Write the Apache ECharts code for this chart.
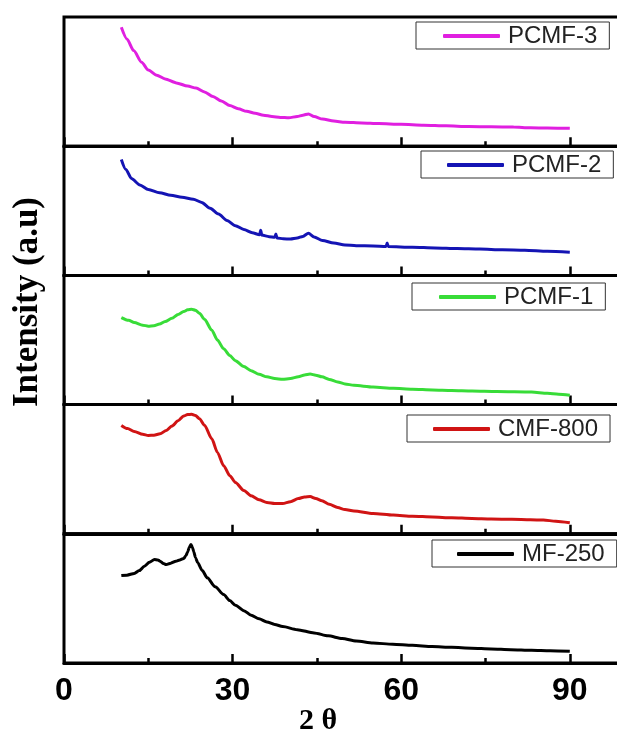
<!DOCTYPE html>
<html>
<head>
<meta charset="utf-8">
<script src="https://cdn.jsdelivr.net/npm/echarts@6/dist/echarts.min.js"></script>
<style>
  html, body { margin: 0; padding: 0; background: #ffffff; }
  #chart { width: 617px; height: 740px; }
</style>
</head>
<body>
<div id="chart"></div>
<script>
// XRD patterns, stacked top to bottom
const seriesNames = ['PCMF-3', 'PCMF-2', 'PCMF-1', 'CMF-800', 'MF-250'];
const seriesColors = ['#e01fe0', '#1414b4', '#38dc38', '#d01414', '#000000'];

const thetaPCMF3 = [10.2, 11.2, 12.4, 13.8, 15, 16.5, 18, 20, 22, 23.5, 25, 26.5, 28, 29.5, 31, 32.5, 34, 35.5, 37, 38.5, 40, 41.5, 42.5, 43.5, 44.5, 46, 48, 50, 53, 56, 60, 64, 68, 72, 76, 80, 83, 86, 90];
const intPCMF3 = [92, 83, 74, 65, 59, 55, 52, 49, 46.5, 45, 42, 38.5, 35, 31.5, 29, 27, 25.5, 24, 23, 22.3, 22, 23, 24, 25, 23, 21, 19.5, 18.5, 18, 17.5, 17, 16.3, 15.8, 15.2, 15, 14.8, 14.2, 14, 13.8];

const thetaPCMF2 = [10.2, 11, 12, 13.5, 15, 17, 19, 21, 23, 24.5, 26, 27.5, 29, 30.5, 32, 33.5, 34.8, 35, 35.2, 36.5, 37.5, 37.7, 37.9, 39, 40.3, 41.5, 42.5, 43.5, 44.5, 46, 48, 50, 52, 55, 57.3, 57.5, 57.7, 62, 66, 70, 74, 78, 82, 86, 90];
const intPCMF2 = [89.7, 82, 75, 70, 66.5, 64, 62, 60.5, 59, 56.5, 52, 47.5, 42.5, 38.5, 35.5, 33, 31.5, 35, 31.2, 30, 29.5, 32, 29, 28.3, 28.2, 29, 30.2, 32.6, 29.8, 27, 25, 23.6, 23, 22.8, 22.4, 25, 22.3, 21.8, 21.3, 20.8, 20.4, 19.8, 19.5, 18.6, 17.9];

const thetaPCMF1 = [10.2, 11.5, 12.5, 14, 15, 16, 17, 18, 19.2, 20.3, 21.3, 22, 22.7, 23.4, 24.1, 25, 26.3, 27.3, 28.4, 29.5, 30.5, 32, 33.3, 34.7, 36.1, 37.5, 38.9, 40.3, 41.7, 42.8, 43.8, 44.8, 45.9, 47.2, 48.7, 50, 51.6, 55, 58.6, 62, 65.6, 69, 72.6, 77, 83.2, 86, 88, 90];
const intPCMF1 = [67.3, 65.2, 63.6, 61.5, 60.7, 61, 62.3, 64.3, 66.8, 69.8, 72, 73.4, 73.8, 73, 70.7, 66, 57.6, 50, 43.2, 38, 34, 29.5, 26.2, 23.5, 21.5, 20.2, 19.6, 20.2, 21.5, 22.9, 23.6, 22.8, 21.5, 19.5, 17.5, 16, 14.9, 13.6, 12.6, 11.9, 11.3, 10.9, 10.5, 10.1, 9.7, 8.7, 8, 7.3];

const thetaCMF800 = [10.2, 11.3, 12.5, 14, 15, 16, 17.1, 18.2, 19.2, 20.3, 21.3, 22, 22.7, 23.4, 24.1, 25, 26.3, 27.3, 28.4, 29.5, 30.5, 32, 33.3, 34.7, 36.1, 37.5, 38.9, 40.3, 41.7, 42.8, 43.8, 44.8, 45.9, 47.2, 48.7, 50, 51.6, 55, 58.6, 62, 65.6, 69, 72.6, 76, 79.7, 83, 85.3, 87.5, 90];
const intCMF800 = [83.9, 81.5, 79.2, 77, 76.1, 76.3, 77.4, 80, 83.4, 87.5, 91.2, 92.3, 92.5, 91.5, 89.1, 84, 73.5, 63, 52.7, 45, 39.7, 33.5, 29.4, 26.3, 24.2, 23.4, 23.4, 24.8, 27.3, 28.5, 28.8, 27.3, 25.5, 22.8, 20.3, 18.8, 17.7, 15.8, 14.5, 13.6, 13, 12.4, 11.9, 11.5, 11.2, 10.9, 10.6, 9.8, 8.6];

const thetaMF250 = [10.2, 11.2, 12.5, 13.4, 14.3, 15.2, 16.1, 16.7, 17.1, 17.7, 18.2, 19, 19.9, 20.6, 21.3, 21.7, 22, 22.3, 22.6, 22.9, 23.1, 23.4, 23.8, 24.6, 25.5, 26.9, 28.4, 29.5, 30.5, 32, 33.3, 34.7, 36.1, 37.5, 38.9, 41.5, 44.5, 47, 49.5, 52, 55, 58.5, 62, 65.5, 69, 72.5, 76, 79.5, 83.2, 86.5, 90];
const intMF250 = [67.7, 68, 69.3, 71.5, 74.9, 78, 80.1, 79.8, 78.8, 77, 76.2, 77.3, 78.8, 79.8, 80.9, 83, 86, 89.5, 91.7, 89, 86, 81.5, 77.5, 71.5, 65.9, 59, 53, 48.3, 44.7, 40.5, 37, 34.2, 31.8, 29.8, 28.2, 25.8, 23.3, 21, 18.9, 17, 15.5, 14.5, 13.7, 12.8, 12.1, 11.5, 10.9, 10.3, 9.8, 9.4, 9];

const thetaSets = [thetaPCMF3, thetaPCMF2, thetaPCMF1, thetaCMF800, thetaMF250];
const intensitySets = [intPCMF3, intPCMF2, intPCMF1, intCMF800, intMF250];

// 2θ axis range and tick spacing
const thetaMin = 0;
const thetaMax = 120;
const thetaInterval = 30;

// panel geometry (px)
const plotLeft = 64;
const pxPerDegree = 5.62;
const panelTop = 17;
const panelHeight = 129.2;

// legend box placement for each panel: [left, top, padding-left]
const legendBoxes = [
  [416, 22, 27],
  [421, 151, 26],
  [412, 283, 27],
  [407, 415, 26],
  [432, 540, 25]
];

const plotWidth = (thetaMax - thetaMin) * pxPerDegree;

const grids = [], xAxes = [], yAxes = [], series = [], legends = [];

seriesNames.forEach(function (name, i) {
  const isBottom = i === seriesNames.length - 1;
  grids.push({
    left: plotLeft,
    top: panelTop + i * panelHeight,
    width: plotWidth,
    height: panelHeight,
    containLabel: false,
    outerBoundsMode: 'none',
    show: true,
    borderColor: '#000',
    borderWidth: 3,
    backgroundColor: 'transparent'
  });
  xAxes.push({
    type: 'value',
    gridIndex: i,
    min: thetaMin,
    max: thetaMax,
    interval: thetaInterval,
    axisLine: { show: true, lineStyle: { color: '#000', width: 3 } },
    axisTick: { show: true, inside: true, length: 9, lineStyle: { color: '#000', width: 2.5 } },
    minorTick: { show: true, splitNumber: 2, length: 5, lineStyle: { color: '#000', width: 2.5 } },
    splitLine: { show: false },
    axisLabel: {
      show: isBottom,
      margin: 12,
      color: '#000',
      fontFamily: 'Liberation Sans',
      fontWeight: 'bold',
      fontSize: 32
    }
  });
  yAxes.push({
    type: 'value',
    gridIndex: i,
    min: 0,
    max: 100,
    show: false
  });
  const pts = thetaSets[i].map(function (t, k) { return [t, intensitySets[i][k]]; });
  series.push({
    name: name,
    type: 'line',
    xAxisIndex: i,
    yAxisIndex: i,
    data: pts,
    showSymbol: false,
    symbol: 'none',
    smooth: 0.25,
    smoothMonotone: 'x',
    lineStyle: { color: seriesColors[i], width: 3 },
    itemStyle: { color: seriesColors[i] },
    animation: false
  });
  const box = legendBoxes[i];
  legends.push({
    data: [name],
    left: box[0],
    top: box[1],
    orient: 'horizontal',
    padding: [2, 12, 1, box[2]],
    borderColor: '#333',
    borderWidth: 1,
    borderRadius: 0,
    backgroundColor: '#fff',
    icon: 'roundRect',
    itemWidth: 57,
    itemHeight: 4,
    itemGap: 0,
    selectedMode: false,
    textStyle: {
      color: '#222',
      fontFamily: 'Liberation Sans',
      fontSize: 24,
      lineHeight: 24,
      padding: [0, 0, 0, 3]
    }
  });
});

const chart = echarts.init(document.getElementById('chart'), null, { renderer: 'canvas' });
chart.setOption({
  animation: false,
  backgroundColor: '#fff',
  grid: grids,
  xAxis: xAxes,
  yAxis: yAxes,
  legend: legends,
  series: series,
  graphic: [
    {
      type: 'text',
      x: 28,
      y: 302,
      rotation: Math.PI / 2,
      style: {
        text: 'Intensity (a.u)',
        font: 'bold 35px "Liberation Serif"',
        fill: '#000',
        textAlign: 'center',
        textVerticalAlign: 'middle'
      }
    },
    {
      type: 'text',
      x: 318,
      y: 721,
      style: {
        text: '2 θ',
        font: 'bold 30px "Liberation Serif"',
        fill: '#000',
        textAlign: 'center',
        textVerticalAlign: 'middle'
      }
    }
  ]
});
</script>
</body>
</html>
